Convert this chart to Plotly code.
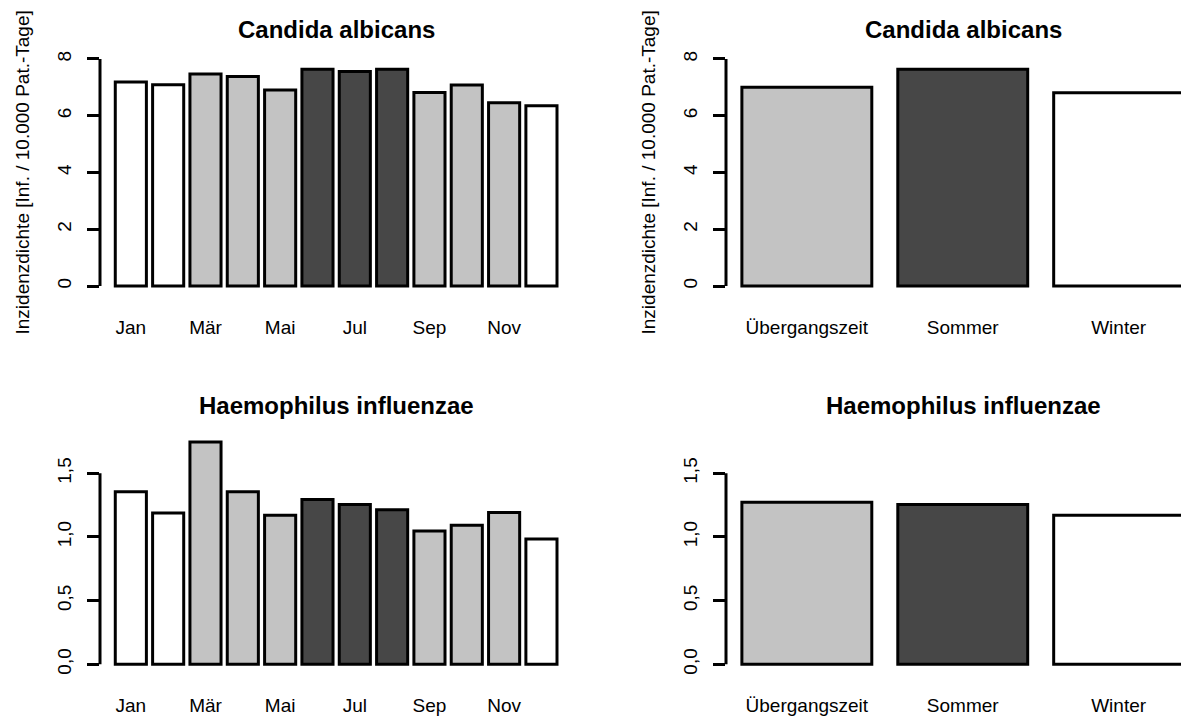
import plotly.graph_objects as go

W, H = 1181, 718

# ---------------- data ----------------
months = ["Jan", "Feb", "Mär", "Apr", "Mai", "Jun", "Jul", "Aug", "Sep", "Okt", "Nov", "Dez"]
month_labels_shown = ["Jan", "Mär", "Mai", "Jul", "Sep", "Nov"]
month_season = ["Winter", "Winter", "Übergangszeit", "Übergangszeit", "Übergangszeit",
                "Sommer", "Sommer", "Sommer", "Übergangszeit", "Übergangszeit",
                "Übergangszeit", "Winter"]
seasons = ["Übergangszeit", "Sommer", "Winter"]

candida_month = [7.19, 7.09, 7.47, 7.38, 6.91, 7.64, 7.56, 7.64, 6.82, 7.08, 6.46, 6.35]
haemo_month = [1.355, 1.189, 1.746, 1.355, 1.171, 1.295, 1.256, 1.214, 1.048, 1.093, 1.193, 0.985]
candida_season = [7.00, 7.64, 6.81]
haemo_season = [1.273, 1.256, 1.171]

titles = ["Candida albicans", "Haemophilus influenzae"]
ylab = "Inzidenzdichte [Inf. / 10.000 Pat.-Tage]"
candida_ticks = [0, 2, 4, 6, 8]
candida_ticktext = ["0", "2", "4", "6", "8"]
haemo_ticks = [0, 0.5, 1.0, 1.5]
haemo_ticktext = ["0,0", "0,5", "1,0", "1,5"]

# ---------------- style ----------------
season_color = {"Übergangszeit": "#C3C3C3", "Sommer": "#474747", "Winter": "#FFFFFF"}
FONT = "Liberation Sans, Arial, sans-serif"
TFONT = "Liberation Sans, Arial, sans-serif"
LW = 3
FS = 19


def px_x(p):
    return p / W


def px_y(p):
    return 1 - p / H


# panel geometry (pixels)
col_x = {0: (100, 575), 1: (726, 1181)}
col_xrange = {0: [-0.826, 11.899], 1: [-0.5186, 2.400]}
row_y = {0: (49.9, 295.1), 1: (432.6, 673.2)}
row_yrange = {0: [-0.32, 8.32], 1: [-0.07, 1.82]}
title_x = {0: 336, 1: 963}
title_y = {0: 29, 1: 405}

fig = go.Figure()

panels = [
    (0, 0, months, candida_month, [season_color[s] for s in month_season], month_labels_shown,
     candida_ticks, candida_ticktext, titles[0], True),
    (0, 1, seasons, candida_season, [season_color[s] for s in seasons], seasons,
     candida_ticks, candida_ticktext, titles[0], True),
    (1, 0, months, haemo_month, [season_color[s] for s in month_season], month_labels_shown,
     haemo_ticks, haemo_ticktext, titles[1], False),
    (1, 1, seasons, haemo_season, [season_color[s] for s in seasons], seasons,
     haemo_ticks, haemo_ticktext, titles[1], False),
]

layout = dict(
    width=W, height=H,
    margin=dict(l=0, r=0, t=0, b=0),
    paper_bgcolor="white", plot_bgcolor="white",
    bargap=1 / 6,
    showlegend=False,
    font=dict(family=FONT, size=FS, color="black"),
    shapes=[], annotations=[],
)

for i, (r, c, cats, vals, cols, shown, tv, tt, title, with_ylab) in enumerate(panels):
    n = i + 1
    xa = "x" if n == 1 else f"x{n}"
    ya = "y" if n == 1 else f"y{n}"
    fig.add_trace(go.Bar(
        x=cats, y=vals, xaxis=xa, yaxis=ya,
        marker=dict(color=cols, line=dict(color="black", width=LW)),
        hoverinfo="x+y",
    ))
    x0, x1 = col_x[c]
    ytop, ybot = row_y[r]
    layout["xaxis" if n == 1 else f"xaxis{n}"] = dict(
        domain=[px_x(x0), px_x(x1)], range=col_xrange[c],
        type="category", categoryorder="array", categoryarray=cats,
        tickmode="array", tickvals=shown, ticktext=shown,
        showline=False, ticks="", showgrid=False, zeroline=False,
        tickfont=dict(family=FONT, size=FS, color="black"),
        ticklabelstandoff=19,
        anchor=ya, fixedrange=True,
    )
    layout["yaxis" if n == 1 else f"yaxis{n}"] = dict(
        domain=[px_y(ybot), px_y(ytop)], range=row_yrange[r],
        tickmode="array", tickvals=tv, ticktext=tt,
        ticks="outside", ticklen=12, tickwidth=LW, tickcolor="black",
        showline=False, showgrid=False, zeroline=False,
        tickangle=-90,
        tickfont=dict(family=FONT, size=FS, color="black"),
        ticklabelstandoff=8,
        anchor=xa, fixedrange=True,
    )
    # R-style axis line spanning first to last tick
    layout["shapes"].append(dict(
        type="line", xref=f"{xa} domain", yref=ya,
        x0=0, x1=0, y0=tv[0], y1=tv[-1],
        line=dict(color="black", width=LW),
    ))
    layout["annotations"].append(dict(
        text=f"<b>{title}</b>", xref="paper", yref="paper",
        x=px_x(title_x[c]), y=px_y(title_y[r]), xanchor="center", yanchor="middle",
        showarrow=False, font=dict(family=TFONT, size=24, color="black"),
    ))
    if with_ylab:
        layout["annotations"].append(dict(
            text=ylab, xref="paper", yref="paper", textangle=-90,
            x=px_x(x0 - 78), y=px_y((ytop + ybot) / 2), xanchor="center", yanchor="middle",
            showarrow=False, font=dict(family=FONT, size=FS, color="black"),
        ))

fig.update_layout(**layout)
fig.write_html("out.html")
